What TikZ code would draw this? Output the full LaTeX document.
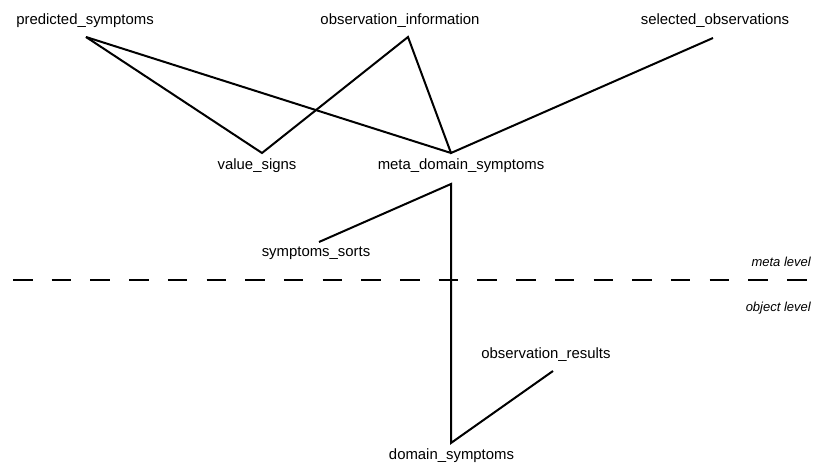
\documentclass[tikz,border=0pt]{standalone}
\usepackage{fontspec}
\setmainfont{Liberation Sans}
\begin{document}
\begin{tikzpicture}[x=1pt,y=-1pt,
  lbl/.style={anchor=base,inner sep=0pt,font=\fontsize{14.9}{17}\selectfont},
  lvl/.style={anchor=base east,inner sep=0pt,font=\fontsize{13}{15}\selectfont\itshape},
  link/.style={line width=2pt,line join=miter},
  divider/.style={line width=2pt,dash pattern=on 19.5pt off 19.2pt}]
\useasboundingbox (0,0) rectangle (823,465);

% labels
\node[lbl] (predicted) at (85,25) {predicted\_symptoms};
\node[lbl] (obsinfo) at (400,25) {observation\_information};
\node[lbl] (selected) at (715,25) {selected\_observations};
\node[lbl] (valsigns) at (257,170) {value\_signs};
\node[lbl] (metadom) at (461,170) {meta\_domain\_symptoms};
\node[lbl] (sorts) at (316,257) {symptoms\_sorts};
\node[lbl] (obsres) at (546,359) {observation\_results};
\node[lbl] (domsym) at (451.5,460) {domain\_symptoms};
\node[lvl] (metalvl) at (811,267) {meta level};
\node[lvl] (objlvl) at (811,312) {object level};

% connector end points
\coordinate (pP) at (86,37);
\coordinate (pOI) at (408,37);
\coordinate (pSO) at (713,38);
\coordinate (pVS) at (262,153);
\coordinate (pMD) at (451,153);
\coordinate (pMDlow) at (451,184);
\coordinate (pSS) at (319,242);
\coordinate (pDS) at (451,443);
\coordinate (pOR) at (553,371);
\coordinate (dL) at (13,280.5);
\coordinate (dR) at (807,280.5);

% meta level links
\draw[link] (pP) -- (pVS) -- (pOI) -- (pMD) -- (pSO);
\draw[link] (pP) -- (pMD);
% links down to the object level
\draw[link] (pSS) -- (pMDlow) -- (pDS) -- (pOR);

% level divider
\draw[divider] (dL) -- (dR);
\end{tikzpicture}
\end{document}
